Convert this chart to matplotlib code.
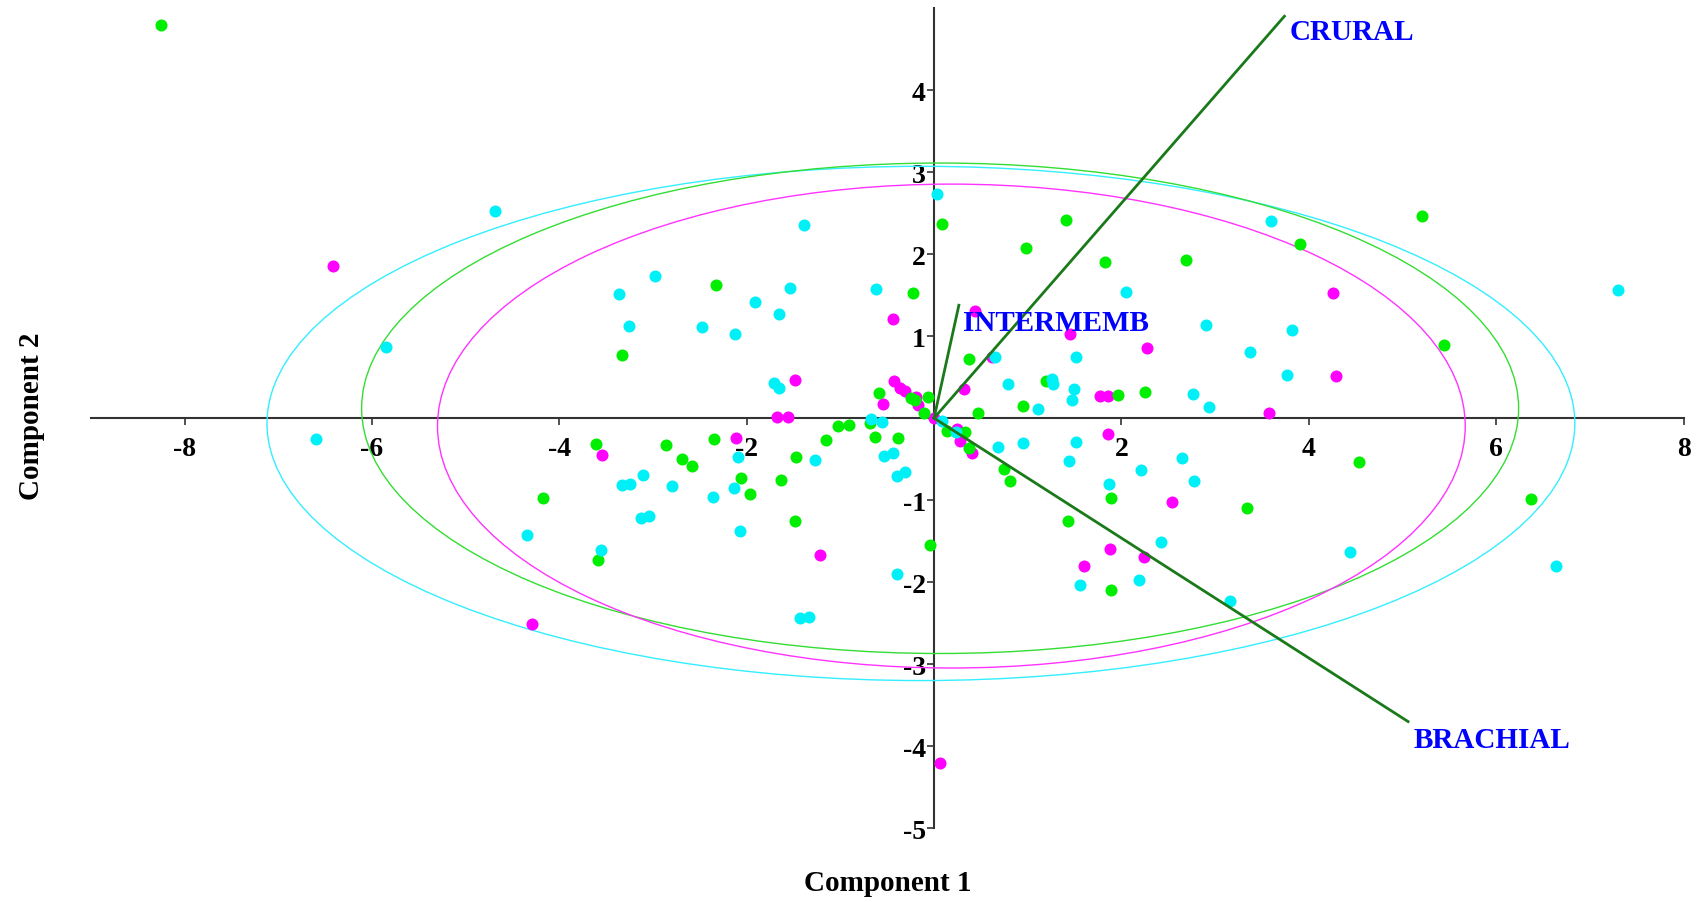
import matplotlib
matplotlib.use("Agg")
import matplotlib.pyplot as plt
from matplotlib.patches import Ellipse

plt.rcParams['font.family'] = ['Liberation Serif', 'DejaVu Serif']
plt.rcParams['font.weight'] = 'bold'
plt.rcParams['axes.unicode_minus'] = False

# scores, one list per group (component 1, component 2)
green_x = [-8.25, -3.61, -4.17, -3.59, -2.86, -2.69, -2.58, -2.35, -2.06, -1.96,
           -1.63, -1.47, -1.48, -1.15, -1.02, -0.91, -0.68, -0.63, -0.38, -0.04,
           0.14, 0.33, 0.37, 0.75, 0.81, 1.43, 1.89, 1.89, 3.34, 4.54,
           6.37, 0.08, 1.41, 0.98, 1.83, 2.69, 3.91, 5.21, 5.44, -2.33,
           -0.22, -3.33, 0.37, -0.59, -0.25, -0.20, -0.06, -0.11, 0.47, 0.95,
           1.19, 1.96, 2.25]
green_y = [4.79, -0.32, -0.97, -1.73, -0.33, -0.50, -0.59, -0.26, -0.73, -0.92,
           -0.75, -0.47, -1.26, -0.27, -0.10, -0.09, -0.06, -0.23, -0.24, -1.55,
           -0.16, -0.17, -0.37, -0.62, -0.77, -1.26, -0.97, -2.10, -1.10, -0.53,
           -0.99, 2.37, 2.41, 2.07, 1.90, 1.93, 2.12, 2.47, 0.89, 1.62,
           1.53, 0.77, 0.72, 0.30, 0.24, 0.22, 0.26, 0.06, 0.06, 0.15,
           0.45, 0.28, 0.32]

cyan_x = [-4.69, -5.85, -6.60, -4.34, -3.56, -3.33, -3.24, -3.11, -2.80, -3.13,
          -3.04, -2.09, -2.36, -2.13, -2.07, -1.27, -1.43, -1.33, -0.67, -0.56,
          -0.53, -0.44, -0.40, -0.31, -0.40, 0.08, 0.23, 0.68, 0.95, 1.52,
          1.44, 1.87, 2.21, 2.65, 2.78, 2.42, 2.19, 1.56, 3.16, 4.44,
          6.64, 0.03, -1.39, 3.60, -2.98, -3.36, -1.54, -0.62, -1.91, -1.66,
          -3.26, -2.48, -2.12, 2.05, 7.30, 2.90, 3.82, 3.37, 3.77, 0.65,
          1.51, -1.71, -1.65, 0.79, 1.26, 1.27, 1.49, 1.47, 1.11, 2.76,
          2.94]
cyan_y = [2.52, 0.87, -0.26, -1.42, -1.61, -0.81, -0.80, -0.69, -0.83, -1.22,
          -1.19, -0.48, -0.96, -0.85, -1.38, -0.51, -2.44, -2.43, -0.01, -0.05,
          -0.46, -0.43, -0.70, -0.66, -1.90, -0.04, -0.17, -0.35, -0.30, -0.29,
          -0.52, -0.80, -0.63, -0.49, -0.77, -1.51, -1.98, -2.03, -2.23, -1.63,
          -1.80, 2.73, 2.35, 2.40, 1.73, 1.51, 1.59, 1.57, 1.42, 1.27,
          1.12, 1.11, 1.03, 1.54, 1.56, 1.14, 1.08, 0.80, 0.53, 0.75,
          0.74, 0.43, 0.37, 0.41, 0.48, 0.41, 0.35, 0.22, 0.11, 0.29,
          0.13]

magenta_x = [-6.42, -3.54, -4.29, -2.11, -1.22, 0.06, -1.68, -1.56, -1.48, -0.44,
             0.44, 1.45, 2.27, 0.62, -0.43, -0.36, -0.31, -0.55, -0.19, -0.17,
             0.00, 0.32, 0.25, 0.28, 0.41, 1.77, 1.86, 3.58, 4.26, 4.29,
             1.86, 2.54, 1.88, 2.24, 1.60]
magenta_y = [1.86, -0.45, -2.51, -0.24, -1.67, -4.21, 0.01, 0.01, 0.47, 1.21,
             1.31, 1.03, 0.86, 0.75, 0.45, 0.37, 0.33, 0.17, 0.26, 0.16,
             0.00, 0.35, -0.13, -0.28, -0.42, 0.27, 0.27, 0.06, 1.52, 0.51,
             -0.19, -1.02, -1.60, -1.69, -1.80]

# 95% ellipses: center x, center y, half width, half height
ell_cyan = [-0.14, -0.065, 6.98, 3.135]
ell_green = [0.065, 0.12, 6.175, 2.99]
ell_magenta = [0.185, -0.097, 5.485, 2.95]

# loadings
var_names = ['CRURAL', 'INTERMEMB', 'BRACHIAL']
load_x = [3.74, 0.265, 5.06]
load_y = [4.90, 1.376, -3.70]

fig = plt.figure(figsize=(17.06, 9.03), dpi=100)
ax = fig.add_axes([0, 0, 1, 1])
ax.set_xlim(-9.97, 8.24)
ax.set_ylim(-5.90, 5.11)

for e, c in [(ell_cyan, '#33eeff'), (ell_green, '#33dd33'), (ell_magenta, '#ff33ff')]:
    ax.add_patch(Ellipse((e[0], e[1]), 2 * e[2], 2 * e[3], fill=False,
                         edgecolor=c, linewidth=1.0, zorder=2))

ax.scatter(magenta_x, magenta_y, s=75, color='#ff00ff', linewidths=0, zorder=3)
ax.scatter(green_x, green_y, s=75, color='#00ee00', linewidths=0, zorder=3)
ax.scatter(cyan_x, cyan_y, s=75, color='#00f0f8', linewidths=0, zorder=3)

for name, lx, ly in zip(var_names, load_x, load_y):
    ax.plot([0, lx], [0, ly], color='#1a7a1a', linewidth=2.0, zorder=4)

ax.text(3.80, 4.71, 'CRURAL', color='#0000ff', fontsize=21, fontweight='bold',
        ha='left', va='center', zorder=5)
ax.text(0.31, 1.17, 'INTERMEMB', color='#0000ff', fontsize=21, fontweight='bold',
        ha='left', va='center', zorder=5)
ax.text(5.12, -3.92, 'BRACHIAL', color='#0000ff', fontsize=21, fontweight='bold',
        ha='left', va='center', zorder=5)

# axes crossing at the origin
for s in ['top', 'right']:
    ax.spines[s].set_visible(False)
ax.spines['left'].set_position(('data', 0))
ax.spines['bottom'].set_position(('data', 0))
ax.spines['left'].set_bounds(-5, 5)
ax.spines['bottom'].set_bounds(-9, 8)
for s in ['left', 'bottom']:
    ax.spines[s].set_color('#333333')
    ax.spines[s].set_linewidth(1.5)
    ax.spines[s].set_zorder(1)

ax.set_xticks([-8, -6, -4, -2, 2, 4, 6, 8])
ax.set_yticks([-5, -4, -3, -2, -1, 1, 2, 3, 4])
ax.tick_params(axis='x', direction='out', length=5, width=1.2, pad=8,
               labelsize=20, colors='#333333', labelcolor='black')
ax.tick_params(axis='y', direction='out', length=5, width=1.2, pad=1,
               labelsize=20, colors='#333333', labelcolor='black')

ax.text(-0.49, -5.66, 'Component 1', fontsize=21, fontweight='bold',
        ha='center', va='center')
ax.text(-9.63, 0.03, 'Component 2', fontsize=21, fontweight='bold',
        ha='center', va='center', rotation=90)

fig.savefig('out.png', dpi=100)
